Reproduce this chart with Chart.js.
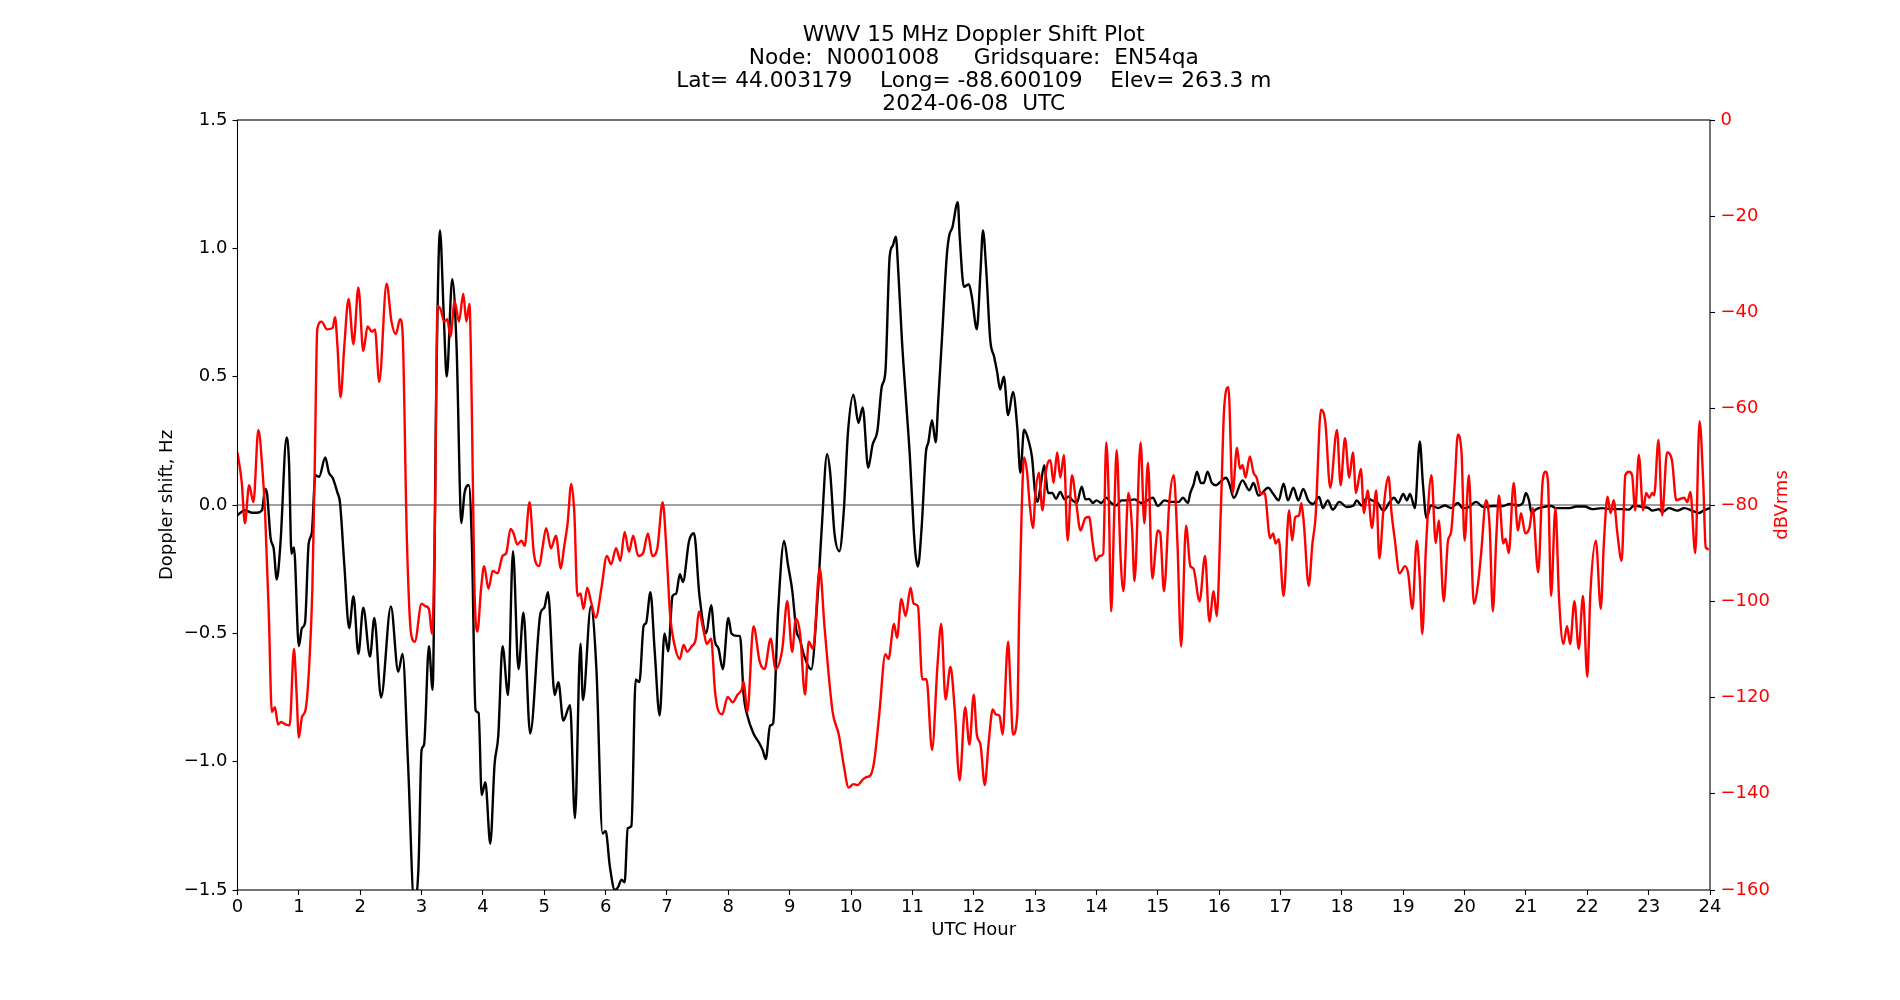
<!DOCTYPE html>
<html>
<head>
<meta charset="utf-8">
<title>WWV 15 MHz Doppler Shift Plot</title>
<script src="https://cdn.jsdelivr.net/npm/chart.js@4.4.1/dist/chart.umd.min.js"></script>
<style>
  html, body { margin: 0; padding: 0; background: #fff; }
  canvas { display: block; }
</style>
</head>
<body>
<canvas id="chart" width="1900" height="1000"></canvas>
<script>
// Doppler shift (Hz)
var hoursDoppler = [0.00,0.12,0.23,0.32,0.40,0.45,0.48,0.54,0.59,0.64,0.70,0.80,0.84,0.88,0.92,1.00,1.05,1.10,1.16,1.21,1.27,1.33,1.43,1.49,1.55,1.63,1.67,1.74,1.82,1.89,1.97,
  2.05,2.16,2.23,2.34,2.50,2.62,2.69,2.78,2.88,2.95,3.00,3.04,3.12,3.18,3.24,3.30,3.36,3.41,3.50,3.57,3.65,3.70,3.77,3.82,3.88,3.93,3.98,
  4.04,4.12,4.19,4.25,4.32,4.41,4.49,4.58,4.66,4.77,4.94,5.00,5.06,5.17,5.23,5.31,5.42,5.50,5.59,5.63,5.76,5.85,5.95,
  6.00,6.07,6.15,6.20,6.26,6.31,6.36,6.42,6.49,6.55,6.62,6.66,6.73,6.80,6.88,6.96,7.02,7.09,7.15,7.21,7.26,7.36,7.44,7.53,7.64,7.72,7.78,7.84,7.91,
  8.00,8.05,8.14,8.19,8.25,8.31,8.41,8.51,8.56,8.61,8.68,8.73,8.81,8.91,8.97,9.04,9.11,9.16,9.24,9.35,9.46,9.52,9.61,9.66,9.73,9.81,9.88,9.95,
  10.04,10.12,10.19,10.28,10.35,10.43,10.50,10.56,10.63,10.68,10.73,10.77,10.83,10.91,10.96,11.02,11.05,11.09,11.15,11.22,11.26,11.32,11.38,11.42,11.48,11.56,11.60,11.65,11.74,11.77,11.84,11.92,11.97,
  12.05,12.11,12.15,12.20,12.27,12.33,12.38,12.43,12.49,12.56,12.64,12.71,12.76,12.82,12.90,12.95,13.00,13.04,13.09,13.15,13.21,13.28,13.34,13.41,13.48,13.55,13.61,13.68,13.76,13.82,13.88,13.94,
  14.00,14.08,14.16,14.24,14.32,14.41,14.51,14.62,14.73,14.79,14.92,15.00,15.11,15.21,15.34,15.41,15.49,15.53,15.58,15.64,15.70,15.75,15.81,15.88,15.95,
  16.00,16.11,16.16,16.24,16.38,16.49,16.56,16.64,16.80,16.87,16.97,17.05,17.12,17.21,17.29,17.37,17.45,17.53,17.63,17.69,17.77,17.85,17.96,
  18.08,18.19,18.24,18.32,18.41,18.49,18.57,18.68,18.78,18.85,18.92,19.00,19.06,19.11,19.19,19.27,19.32,19.38,19.45,19.57,19.68,19.78,19.89,19.97,
  20.03,20.19,20.30,20.46,20.63,20.73,20.87,20.95,21.00,21.05,21.09,21.17,21.28,21.41,21.49,21.60,21.71,21.82,21.96,
  22.08,22.24,22.41,22.57,22.68,22.76,22.90,23.00,23.06,23.17,23.22,23.33,23.47,23.58,23.71,23.82,23.89,24.00];
var doppler = [-0.04,-0.02,-0.03,-0.03,-0.02,0.063,0.047,-0.13,-0.17,-0.29,-0.15,0.263,0.165,-0.19,-0.165,-0.55,-0.48,-0.46,-0.15,-0.11,0.116,0.11,0.185,0.126,0.106,0.047,0.01,-0.23,-0.48,-0.355,-0.58,
  -0.40,-0.59,-0.44,-0.75,-0.395,-0.65,-0.58,-1.01,-1.55,-1.41,-0.955,-0.935,-0.55,-0.72,0.46,1.07,0.75,0.50,0.88,0.62,-0.07,0.047,0.077,-0.15,-0.80,-0.81,-1.13,
  -1.08,-1.32,-1.01,-0.90,-0.55,-0.74,-0.18,-0.64,-0.42,-0.89,-0.42,-0.40,-0.34,-0.74,-0.69,-0.84,-0.78,-1.22,-0.54,-0.76,-0.395,-0.64,-1.28,
  -1.27,-1.41,-1.50,-1.49,-1.46,-1.47,-1.26,-1.25,-0.68,-0.69,-0.47,-0.46,-0.34,-0.57,-0.82,-0.50,-0.57,-0.355,-0.345,-0.27,-0.30,-0.14,-0.11,-0.355,-0.50,-0.39,-0.53,-0.56,-0.64,
  -0.44,-0.50,-0.51,-0.51,-0.74,-0.82,-0.89,-0.93,-0.955,-0.99,-0.86,-0.85,-0.42,-0.14,-0.23,-0.33,-0.49,-0.52,-0.59,-0.64,-0.34,-0.10,0.198,0.126,-0.11,-0.18,-0.03,0.283,
  0.43,0.32,0.38,0.145,0.234,0.29,0.46,0.52,0.97,1.01,1.045,0.91,0.64,0.36,0.185,-0.09,-0.19,-0.24,-0.09,0.204,0.244,0.33,0.244,0.40,0.64,0.97,1.05,1.08,1.18,1.05,0.85,0.86,0.81,
  0.685,0.91,1.07,0.93,0.64,0.58,0.52,0.45,0.50,0.35,0.44,0.30,0.126,0.293,0.244,0.185,0.047,0.012,0.077,0.155,0.047,0.047,0.024,0.051,0.022,0.033,0.018,0.008,0.071,0.022,0.024,0.008,
  0.018,0.008,0.028,0.008,-0.002,0.018,0.018,0.022,0.008,0.012,0.028,-0.004,0.018,0.012,0.012,0.028,0.008,0.047,0.077,0.13,0.086,0.086,0.13,0.086,0.077,
  0.086,0.106,0.086,0.028,0.096,0.057,0.086,0.037,0.067,0.047,0.018,0.083,0.018,0.067,0.018,0.063,0.018,0.004,0.031,-0.012,0.018,-0.018,0.012,
  -0.008,-0.002,0.018,-0.002,0.028,0.018,0.012,-0.022,0.012,0.028,0.008,0.043,0.018,0.043,-0.012,0.248,0.086,-0.051,-0.002,-0.012,-0.002,-0.012,0.008,-0.012,
  -0.012,0.012,-0.008,-0.004,-0.004,0.004,-0.002,0.008,0.047,0.018,-0.031,-0.016,-0.008,-0.004,-0.012,-0.012,-0.012,-0.006,-0.006,
  -0.016,-0.012,-0.016,-0.016,-0.018,-0.002,-0.008,-0.012,-0.022,-0.016,-0.028,-0.012,-0.022,-0.012,-0.022,-0.031,-0.022,-0.012];

// Signal level (dBVrms)
var hoursRms = [0.00,0.07,0.12,0.19,0.26,0.34,0.41,0.45,0.51,0.56,0.61,0.66,0.71,0.78,0.85,0.92,0.96,1.00,1.05,1.11,1.17,1.22,1.26,1.30,1.37,1.46,1.55,1.59,1.63,1.68,1.74,1.81,1.89,1.97,
  2.05,2.12,2.19,2.24,2.31,2.43,2.51,2.58,2.65,2.69,2.76,2.83,2.89,3.00,3.06,3.12,3.17,3.22,3.26,3.31,3.37,3.42,3.47,3.54,3.61,3.68,3.73,3.78,3.82,3.86,3.91,3.97,
  4.02,4.09,4.16,4.24,4.32,4.38,4.45,4.50,4.56,4.63,4.68,4.76,4.83,4.92,4.97,5.03,5.11,5.19,5.27,5.32,5.38,5.44,5.49,5.54,5.59,5.64,5.70,5.76,5.84,5.93,
  6.02,6.09,6.17,6.24,6.31,6.38,6.45,6.53,6.61,6.69,6.76,6.84,6.93,6.99,7.05,7.12,7.21,7.27,7.33,7.40,7.47,7.52,7.59,7.65,7.72,7.78,7.83,7.90,7.99,
  8.07,8.15,8.22,8.25,8.31,8.41,8.51,8.59,8.69,8.77,8.88,8.96,9.04,9.10,9.17,9.25,9.31,9.38,9.49,9.57,9.70,9.80,9.88,9.96,
  10.04,10.11,10.18,10.24,10.32,10.38,10.46,10.56,10.61,10.70,10.75,10.82,10.89,10.97,11.02,11.09,11.16,11.23,11.32,11.41,11.47,11.54,11.62,11.69,11.77,11.86,11.93,
  12.00,12.05,12.11,12.18,12.24,12.31,12.36,12.42,12.47,12.56,12.60,12.64,12.71,12.74,12.78,12.82,12.87,12.91,12.97,13.00,13.06,13.12,13.18,13.25,13.30,13.36,13.41,13.47,13.53,13.60,13.67,13.74,13.82,13.88,13.94,13.99,
  14.05,14.11,14.16,14.20,14.24,14.29,14.33,14.39,14.44,14.52,14.58,14.62,14.72,14.78,14.84,14.91,15.00,15.04,15.10,15.19,15.26,15.32,15.38,15.46,15.53,15.58,15.68,15.77,15.84,15.91,15.96,
  16.03,16.08,16.15,16.22,16.29,16.34,16.38,16.43,16.50,16.56,16.61,16.68,16.74,16.83,16.88,16.92,16.97,17.05,17.14,17.19,17.24,17.30,17.34,17.38,17.46,17.52,17.57,17.66,17.73,17.81,17.92,17.98,
  18.05,18.12,18.18,18.23,18.31,18.36,18.42,18.49,18.56,18.61,18.68,18.76,18.81,18.86,18.94,19.03,19.08,19.15,19.22,19.27,19.31,19.37,19.46,19.53,19.58,19.66,19.73,19.78,19.84,19.89,19.95,
  20.00,20.07,20.15,20.22,20.27,20.35,20.41,20.46,20.52,20.56,20.63,20.67,20.72,20.80,20.87,20.92,20.99,21.06,21.11,21.20,21.27,21.32,21.36,21.41,21.48,21.54,21.61,21.67,21.72,21.79,21.86,21.93,
  22.00,22.05,22.14,22.22,22.27,22.33,22.38,22.43,22.49,22.56,22.62,22.68,22.73,22.78,22.84,22.91,22.96,23.01,23.06,23.09,23.16,23.22,23.30,23.38,23.45,23.52,23.58,23.63,23.68,23.76,23.83,23.89,23.93,23.98];
var rms = [-69.1,-75.4,-83.8,-75.9,-79.4,-64.4,-73.3,-81.7,-102.6,-123.0,-122.0,-125.6,-125.1,-125.6,-125.8,-109.9,-118.3,-128.3,-124.1,-122.5,-113.1,-97.4,-71.2,-43.5,-41.9,-43.5,-43.2,-41.0,-47.1,-57.6,-47.1,-37.2,-46.6,-34.8,
  -48.0,-42.9,-44.0,-43.5,-54.4,-34.0,-41.9,-44.5,-41.4,-44.0,-86.9,-106.8,-108.4,-100.5,-101.0,-101.6,-106.8,-81.7,-38.7,-39.3,-41.9,-41.4,-45.0,-37.7,-41.9,-36.1,-41.9,-38.2,-60.7,-96.3,-106.3,-97.4,
  -92.7,-97.4,-93.7,-94.2,-90.6,-90.0,-85.0,-85.9,-88.2,-87.4,-88.5,-79.4,-90.0,-92.7,-89.0,-84.8,-89.0,-86.4,-93.2,-89.0,-83.8,-75.6,-81.7,-98.9,-98.4,-101.6,-97.2,-100.0,-103.4,-97.4,
  -90.6,-92.3,-89.0,-91.6,-85.6,-89.7,-86.4,-90.6,-90.0,-85.9,-90.6,-89.2,-79.4,-89.0,-102.6,-108.9,-112.0,-109.1,-110.5,-109.4,-107.8,-102.1,-105.7,-108.9,-107.8,-118.3,-122.5,-123.5,-119.9,
  -121.0,-119.4,-118.3,-116.7,-123.0,-105.2,-112.5,-114.1,-107.8,-114.1,-109.9,-100.0,-110.5,-103.6,-106.8,-119.4,-108.4,-109.9,-93.2,-105.7,-123.0,-127.7,-134.0,-138.7,
  -138.0,-138.2,-137.2,-136.6,-136.1,-133.0,-123.5,-111.0,-112.0,-104.7,-107.6,-99.5,-103.1,-97.2,-100.5,-101.0,-116.2,-116.2,-130.9,-113.1,-104.7,-120.4,-113.6,-122.5,-137.2,-122.0,-129.8,
  -119.4,-127.7,-129.8,-138.2,-129.8,-122.5,-123.5,-123.8,-127.7,-108.4,-118.3,-127.7,-123.5,-102.6,-81.7,-70.1,-73.3,-79.6,-84.8,-78.5,-73.3,-81.1,-72.8,-70.7,-75.4,-69.1,-74.3,-69.6,-87.4,-73.8,-79.6,-85.3,-82.7,-82.5,-87.9,-91.6,
  -90.6,-90.2,-67.0,-78.5,-102.1,-81.7,-68.6,-90.0,-97.9,-77.5,-84.8,-95.8,-67.0,-83.8,-71.2,-95.3,-85.3,-85.9,-97.9,-79.0,-73.8,-87.9,-109.4,-84.3,-92.7,-93.2,-100.0,-90.6,-104.2,-97.9,-103.1,
  -80.0,-60.2,-55.5,-77.5,-68.1,-72.5,-71.7,-74.3,-69.9,-73.3,-74.3,-77.7,-77.5,-86.9,-85.9,-88.0,-87.1,-98.9,-81.1,-87.4,-82.5,-82.2,-79.6,-83.8,-96.8,-88.0,-82.7,-60.2,-62.8,-76.4,-64.4,-75.9,
  -66.1,-74.3,-69.1,-77.5,-72.5,-81.7,-77.0,-84.8,-77.0,-91.1,-80.6,-74.1,-81.7,-86.9,-94.2,-92.7,-94.2,-101.6,-87.4,-95.3,-106.8,-89.0,-73.8,-87.9,-83.2,-100.0,-87.4,-85.6,-75.4,-65.4,-69.1,
  -87.4,-73.8,-100.5,-96.3,-90.0,-79.0,-84.8,-102.1,-85.9,-78.0,-88.0,-87.0,-90.0,-75.4,-85.3,-81.7,-85.9,-84.6,-80.6,-94.0,-75.4,-73.1,-75.4,-98.9,-80.6,-99.5,-108.9,-105.2,-108.9,-100.0,-109.9,-98.9,
  -115.7,-98.4,-87.4,-101.6,-88.0,-78.3,-81.7,-79.0,-85.9,-91.6,-73.8,-73.1,-73.8,-81.1,-69.6,-81.1,-77.5,-78.5,-77.5,-78.0,-66.5,-82.2,-69.1,-70.7,-79.0,-78.7,-78.5,-79.4,-77.3,-90.0,-62.6,-75.4,-88.8,-89.2];

var titleLines = [
  'WWV 15 MHz Doppler Shift Plot',
  'Node:  N0001008     Gridsquare:  EN54qa',
  'Lat= 44.003179    Long= -88.600109    Elev= 263.3 m',
  '2024-06-08  UTC'
];

var FONT = 'DejaVu Sans';

function toPoints(xs, ys) {
  return xs.map(function(x, i) { return {x: x, y: ys[i]}; });
}
function minus(s) { return String(s).replace('-', '\u2212'); }

// axes frame + right label drawn by hand (matplotlib style)
var framePlugin = {
  id: 'frame',
  afterDraw: function(chart) {
    var a = chart.chartArea, ctx = chart.ctx;
    ctx.save();
    ctx.strokeStyle = '#000';
    ctx.lineWidth = 1.1;
    ctx.strokeRect(a.left, a.top, a.right - a.left, a.bottom - a.top);
    ctx.translate(1782.5, (a.top + a.bottom) / 2);
    ctx.rotate(-Math.PI / 2);
    ctx.fillStyle = '#ff0000';
    ctx.font = '18px "' + FONT + '"';
    ctx.textAlign = 'center';
    ctx.textBaseline = 'middle';
    ctx.fillText('dBVrms', 0, 0);
    ctx.restore();
  }
};

var tickGrid = {display: true, drawOnChartArea: false, drawTicks: true, tickLength: 5, tickColor: '#000', tickWidth: 1.1};

var ctx = document.getElementById('chart').getContext('2d');
var chart = new Chart(ctx, {
  type: 'line',
  data: {
    datasets: [{
      label: 'dBVrms',
      data: toPoints(hoursRms, rms),
      yAxisID: 'y2',
      borderColor: '#ff0000',
      borderWidth: 2.4,
      pointRadius: 0,
      cubicInterpolationMode: 'monotone'
    }, {
      label: 'Doppler shift',
      data: toPoints(hoursDoppler, doppler),
      yAxisID: 'y',
      borderColor: '#000000',
      borderWidth: 2.4,
      pointRadius: 0,
      cubicInterpolationMode: 'monotone'
    }, {
      label: 'zero',
      data: [{x: 0, y: 0}, {x: 24, y: 0}],
      yAxisID: 'y',
      borderColor: '#808080',
      borderWidth: 1.5,
      pointRadius: 0
    }]
  },
  options: {
    responsive: false,
    devicePixelRatio: 1,
    animation: false,
    layout: {padding: {left: 47.5, right: 0, top: 0, bottom: 0}},
    plugins: {
      legend: {display: false},
      tooltip: {enabled: false},
      title: {
        display: true,
        text: titleLines,
        color: '#000',
        font: {family: FONT, size: 21.7, weight: 'normal', lineHeight: '23px'},
        padding: {top: 23.6, bottom: 4.4}
      }
    },
    scales: {
      x: {
        type: 'linear',
        min: 0,
        max: 24,
        border: {display: false},
        grid: tickGrid,
        ticks: {stepSize: 1, color: '#000', padding: 2, maxRotation: 0, font: {family: FONT, size: 18},
          callback: function(v) { return v; }},
        title: {display: true, text: 'UTC Hour', color: '#000', font: {family: FONT, size: 18}, padding: {top: 0, bottom: 58.7}},
        afterFit: function(s) { s.height = 110; }
      },
      y: {
        position: 'left',
        min: -1.5,
        max: 1.5,
        border: {display: false},
        grid: tickGrid,
        ticks: {stepSize: 0.5, color: '#000', padding: 5, font: {family: FONT, size: 18},
          callback: function(v) { return minus(v.toFixed(1)); }},
        title: {display: true, text: 'Doppler shift, Hz', color: '#000', font: {family: FONT, size: 18}, padding: {top: 108.7, bottom: 0}},
        afterFit: function(s) { s.width = 190; }
      },
      y2: {
        position: 'right',
        min: -160,
        max: 0,
        border: {display: false},
        grid: tickGrid,
        ticks: {stepSize: 20, color: '#ff0000', padding: 5.5, font: {family: FONT, size: 18},
          callback: function(v) { return minus(v); }},
        afterFit: function(s) { s.width = 190; }
      }
    }
  },
  plugins: [framePlugin]
});
</script>
</body>
</html>
